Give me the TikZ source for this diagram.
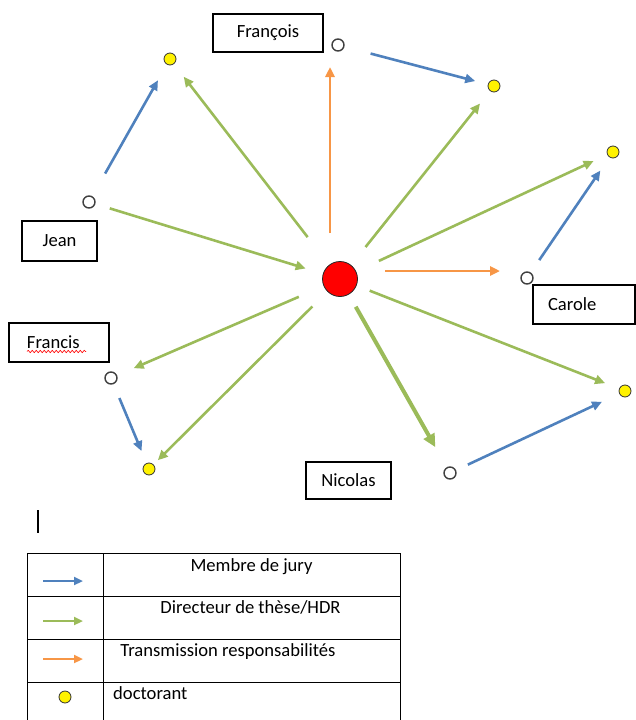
\documentclass[tikz,border=0pt]{standalone}
\usepackage{fontspec}
\setmainfont{Carlito}
\usetikzlibrary{arrows.meta, decorations.pathmorphing}
\definecolor{JuryBlue}{RGB}{79,129,189}
\definecolor{HdrGreen}{RGB}{155,187,89}
\definecolor{PassOrange}{RGB}{247,150,70}

\begin{document}
\begin{tikzpicture}[x=1pt, y=-1pt,
        font=\fontsize{18.6}{20}\selectfont,
        namebox/.style={rectangle, draw, line width=1.3pt, inner sep=0pt},
        member/.style={circle, draw=black!75, line width=1.4pt, fill=white, minimum size=12pt, inner sep=0pt},
        student/.style={circle, draw=black!80, line width=0.8pt, fill=yellow, minimum size=12pt, inner sep=0pt},
        boss/.style={circle, draw=black!85, line width=0.8pt, fill=red, minimum size=35pt, inner sep=0pt},
        arrow/.style={line width=2.6pt, -{Triangle[length=10pt,width=9pt]}},
        jury/.style={arrow, JuryBlue},
        hdr/.style={arrow, HdrGreen},
        pass/.style={arrow, PassOrange}
    ]
        \useasboundingbox (0,0) rectangle (635,720);

        % people
        \node[boss] (hdr) at (340,279) {};
        \node[member] (oFrancois) at (338,45) {};
        \node[member] (oJean) at (89,202) {};
        \node[member] (oFrancis) at (111,378) {};
        \node[member] (oCarole) at (527,278) {};
        \node[member] (oNicolas) at (450,473) {};
        \node[student] (dJean) at (170,59) {};
        \node[student] (dFrancois) at (494,86) {};
        \node[student] (dCarole) at (613,152) {};
        \node[student] (dNicolas) at (625,391) {};
        \node[student] (dFrancis) at (149,469) {};

        % names
        \node[namebox, minimum width=110pt, minimum height=38pt] (bFrancois) at (268,33) {François};
        \node[namebox, minimum width=75pt, minimum height=40pt] (bJean) at (59.5,241) {Jean};
        \node[namebox, minimum width=100pt, minimum height=39pt, text width=64pt, inner xsep=18pt, align=left] (bFrancis) at (59,342.5) {Francis};
        \node[namebox, minimum width=102pt, minimum height=39pt, text width=72pt, inner xsep=15pt, align=left] (bCarole) at (584,304.5) {Carole};
        \node[namebox, minimum width=85pt, minimum height=37pt] (bNicolas) at (348.5,480.5) {Nicolas};
        \draw[red, line width=0.6pt, decorate, decoration={snake, amplitude=1.2pt, segment length=4pt}]
            ([xshift=-32pt,yshift=-9pt]bFrancis.center) -- ++(59,0);

        % jury
        \draw[jury, shorten <=26pt, shorten >=18pt] (oJean) -- (dJean);
        \draw[jury, shorten <=27pt, shorten >=13pt] (oFrancois) -- (dFrancois);
        \draw[jury, shorten <=15pt, shorten >=16pt] (oCarole) -- (dCarole);
        \draw[jury, shorten <=13pt, shorten >=19pt] (oNicolas) -- (dNicolas);
        \draw[jury, shorten <=15pt, shorten >=13pt] (oFrancis) -- (dFrancis);

        % these / HDR
        \draw[hdr, shorten <=15pt, shorten >=18pt] (oJean) -- (hdr);
        \draw[hdr, shorten <=35pt, shorten >=16pt] (hdr) -- (dJean);
        \draw[hdr, shorten <=23pt, shorten >=16pt] (hdr) -- (dFrancois);
        \draw[hdr, shorten <=25pt, shorten >=15pt] (hdr) -- (dCarole);
        \draw[hdr, shorten <=14pt, shorten >=15pt] (hdr) -- (dNicolas);
        \draw[hdr, line width=4pt, -{Triangle[length=13pt,width=12pt]}, shorten <=14pt, shorten >=23pt] (hdr) -- (oNicolas);
        \draw[hdr, shorten <=21pt, shorten >=6pt] (hdr) -- (dFrancis);
        \draw[hdr, shorten <=27pt, shorten >=18pt] (hdr) -- (oFrancis);

        % transmission
        \draw[pass, shorten <=46pt, shorten >=22pt] ([xshift=-10pt]hdr.center) -- ([xshift=-8pt]oFrancois.center);
        \draw[pass, shorten <=45pt, shorten >=27pt] ([yshift=8pt]hdr.center) -- ([yshift=7pt]oCarole.center);

        % legend
        \draw[line width=1.2pt] (38,510) -- (38,533);
        \draw[line width=1pt] (27,720) -- (27,553) -- (400,553) -- (400,720);
        \foreach \y in {596,639,682}
            \draw[line width=1pt] (27,\y) -- (400,\y);
        \draw[line width=1pt] (103,553) -- (103,720);
        \foreach \sty/\y [count=\i] in {jury/581, hdr/621, pass/659} {
            \coordinate (k\i a) at (43,\y);
            \coordinate (k\i b) at (83,\y);
            \draw[\sty, line width=2.2pt, -{Triangle[length=9pt,width=8pt]}] (k\i a) -- (k\i b);
        }
        \node[student] (kStudent) at (65,697) {};
        \node[anchor=base] (tJury) at (251.5,571.7) {Membre de jury};
        \node[anchor=base] (tHdr) at (250.5,613) {Directeur de thèse/HDR};
        \node[anchor=base] (tPass) at (228,656.7) {Transmission responsabilités};
        \node[anchor=base west, inner sep=0pt] (tStudent) at (113,699) {doctorant};
    \end{tikzpicture}
\end{document}
